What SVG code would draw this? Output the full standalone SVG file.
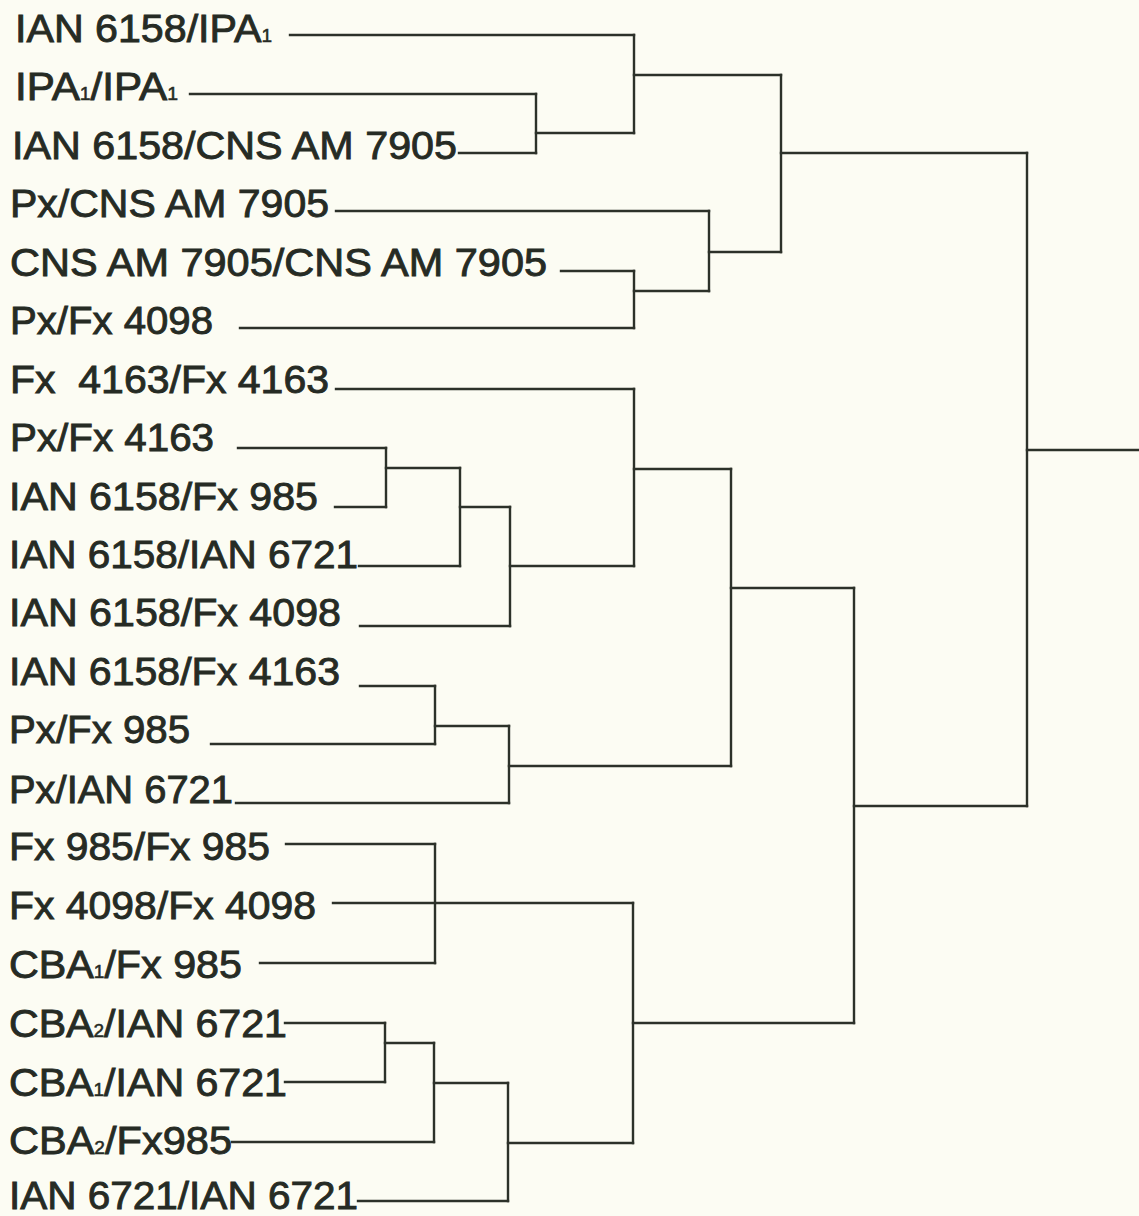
<svg xmlns="http://www.w3.org/2000/svg" width="1139" height="1216" viewBox="0 0 1139 1216">
<style>
.lbl{font-family:"Liberation Sans",Arial,sans-serif;font-size:39px;fill:#262b24;stroke:#262b24;stroke-width:0.9px;}
.sub{font-size:18px;stroke-width:0.5px;}
.con{fill:none;stroke:#2c3129;stroke-width:2.4;stroke-linecap:square;stroke-linejoin:miter;}
</style>
<rect x="0" y="0" width="1139" height="1216" fill="#fcfcf3"/>
<g id="connectors" class="con">
<path d="M290,35H634M190,94H536M459,153H536M536,133H634M634,75H781M336,211H709M561,271H634M240,328H634M634,291H709M709,252H781M781,153H1027"/>
<path d="M336,389H634M238,448H386M335,507H386M386,468H460M359,566H460M460,507H510M360,626H510M510,566H634M634,469H731"/>
<path d="M360,686H435M211,744H435M435,726H509M236,803H509M509,766H731M731,588H854"/>
<path d="M286,844H435M333,903H633M260,963H435M285,1023H385M285,1082H385M385,1043H434M232,1142H434M434,1083H508M358,1201H508M508,1143H633M633,1023H854M854,806H1027M1027,450H1139"/>
<path d="M536,94V153M634,35V133M634,271V328M709,211V291M781,75V252M1027,153V806M386,448V507M460,468V566M510,507V626M634,389V566M435,686V744M509,726V803M731,469V766M854,588V1023M435,844V963M385,1023V1082M434,1043V1142M508,1083V1201M633,903V1143"/>
</g>
<g id="n1"><text class="lbl" x="15" y="42" textLength="257" lengthAdjust="spacingAndGlyphs">IAN 6158/IPA<tspan class="sub">1</tspan></text></g>
<g id="n2"><text class="lbl" x="15" y="100" textLength="163" lengthAdjust="spacingAndGlyphs">IPA<tspan class="sub">1</tspan>/IPA<tspan class="sub">1</tspan></text></g>
<g id="n3"><text class="lbl" x="12" y="159" textLength="445" lengthAdjust="spacingAndGlyphs">IAN 6158/CNS AM 7905</text></g>
<g id="n4"><text class="lbl" x="10" y="217" textLength="319" lengthAdjust="spacingAndGlyphs">Px/CNS AM 7905</text></g>
<g id="n5"><text class="lbl" x="10" y="276" textLength="537" lengthAdjust="spacingAndGlyphs">CNS AM 7905/CNS AM 7905</text></g>
<g id="n6"><text class="lbl" x="10" y="334" textLength="203" lengthAdjust="spacingAndGlyphs">Px/Fx 4098</text></g>
<g id="n7"><text class="lbl" x="10" y="393" textLength="319" lengthAdjust="spacingAndGlyphs" xml:space="preserve">Fx  4163/Fx 4163</text></g>
<g id="n8"><text class="lbl" x="10" y="451" textLength="204" lengthAdjust="spacingAndGlyphs">Px/Fx 4163</text></g>
<g id="n9"><text class="lbl" x="9" y="510" textLength="309" lengthAdjust="spacingAndGlyphs">IAN 6158/Fx 985</text></g>
<g id="n10"><text class="lbl" x="9" y="568" textLength="349" lengthAdjust="spacingAndGlyphs">IAN 6158/IAN 6721</text></g>
<g id="n11"><text class="lbl" x="9" y="626" textLength="332" lengthAdjust="spacingAndGlyphs">IAN 6158/Fx 4098</text></g>
<g id="n12"><text class="lbl" x="9" y="685" textLength="331" lengthAdjust="spacingAndGlyphs">IAN 6158/Fx 4163</text></g>
<g id="n13"><text class="lbl" x="9" y="743" textLength="181" lengthAdjust="spacingAndGlyphs">Px/Fx 985</text></g>
<g id="n14"><text class="lbl" x="9" y="803" textLength="224" lengthAdjust="spacingAndGlyphs">Px/IAN 6721</text></g>
<g id="n15"><text class="lbl" x="9" y="860" textLength="261" lengthAdjust="spacingAndGlyphs">Fx 985/Fx 985</text></g>
<g id="n16"><text class="lbl" x="9" y="919" textLength="307" lengthAdjust="spacingAndGlyphs">Fx 4098/Fx 4098</text></g>
<g id="n17"><text class="lbl" x="9" y="978" textLength="233" lengthAdjust="spacingAndGlyphs">CBA<tspan class="sub">1</tspan>/Fx 985</text></g>
<g id="n18"><text class="lbl" x="9" y="1037" textLength="278" lengthAdjust="spacingAndGlyphs">CBA<tspan class="sub">2</tspan>/IAN 6721</text></g>
<g id="n19"><text class="lbl" x="9" y="1096" textLength="278" lengthAdjust="spacingAndGlyphs">CBA<tspan class="sub">1</tspan>/IAN 6721</text></g>
<g id="n20"><text class="lbl" x="9" y="1154" textLength="223" lengthAdjust="spacingAndGlyphs">CBA<tspan class="sub">2</tspan>/Fx985</text></g>
<g id="n21"><text class="lbl" x="9" y="1209" textLength="349" lengthAdjust="spacingAndGlyphs">IAN 6721/IAN 6721</text></g>
</svg>
